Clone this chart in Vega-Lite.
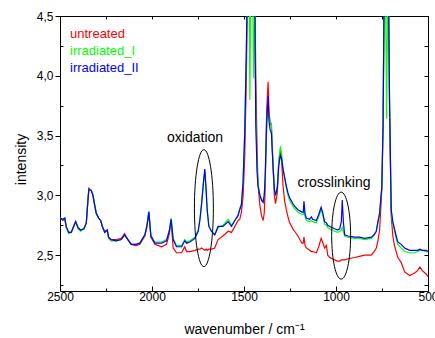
{
"$schema": "https://vega.github.io/schema/vega-lite/v6.json",
"width": 368, "height": 275,
"autosize": "none",
"padding": {"left": 60, "top": 16, "right": 7, "bottom": 47},
"background": "white",
"config": {"view": {"stroke": null}, "font": "Liberation Sans",
  "axis": {"domainColor": "#000000", "domainWidth": 1, "tickColor": "#000000", "tickWidth": 1, "grid": false, "labelColor": "#000000", "labelFontSize": 12, "labelFont": "Liberation Sans", "titleFont": "Liberation Sans", "titleFontSize": 14, "titleFontWeight": "normal", "titleColor": "#000000", "labelFlush": false, "labelOverlap": false}},
"datasets": {
"spectra": [
{"w":2500,"s":"untreated","v":2.81},{"w":2484,"s":"untreated","v":2.79},{"w":2474,"s":"untreated","v":2.80},{"w":2466,"s":"untreated","v":2.73},{"w":2453,"s":"untreated","v":2.69},{"w":2439,"s":"untreated","v":2.69},{"w":2426,"s":"untreated","v":2.74},{"w":2415,"s":"untreated","v":2.78},{"w":2402,"s":"untreated","v":2.73},{"w":2388,"s":"untreated","v":2.71},{"w":2370,"s":"untreated","v":2.72},{"w":2357,"s":"untreated","v":2.77},{"w":2348,"s":"untreated","v":2.97},{"w":2343,"s":"untreated","v":3.06},{"w":2330,"s":"untreated","v":3.04},{"w":2321,"s":"untreated","v":3.00},{"w":2312,"s":"untreated","v":2.92},{"w":2303,"s":"untreated","v":2.85},{"w":2290,"s":"untreated","v":2.81},{"w":2279,"s":"untreated","v":2.79},{"w":2270,"s":"untreated","v":2.74},{"w":2257,"s":"untreated","v":2.70},{"w":2243,"s":"untreated","v":2.71},{"w":2236,"s":"untreated","v":2.65},{"w":2222,"s":"untreated","v":2.63},{"w":2194,"s":"untreated","v":2.63},{"w":2167,"s":"untreated","v":2.64},{"w":2149,"s":"untreated","v":2.68},{"w":2131,"s":"untreated","v":2.63},{"w":2113,"s":"untreated","v":2.59},{"w":2086,"s":"untreated","v":2.58},{"w":2066,"s":"untreated","v":2.59},{"w":2039,"s":"untreated","v":2.66},{"w":2028,"s":"untreated","v":2.73},{"w":2017,"s":"untreated","v":2.85},{"w":2006,"s":"untreated","v":2.65},{"w":1995,"s":"untreated","v":2.62},{"w":1984,"s":"untreated","v":2.59},{"w":1965,"s":"untreated","v":2.58},{"w":1948,"s":"untreated","v":2.57},{"w":1921,"s":"untreated","v":2.59},{"w":1906,"s":"untreated","v":2.68},{"w":1896,"s":"untreated","v":2.78},{"w":1885,"s":"untreated","v":2.56},{"w":1867,"s":"untreated","v":2.52},{"w":1839,"s":"untreated","v":2.52},{"w":1822,"s":"untreated","v":2.57},{"w":1812,"s":"untreated","v":2.53},{"w":1794,"s":"untreated","v":2.53},{"w":1767,"s":"untreated","v":2.54},{"w":1749,"s":"untreated","v":2.55},{"w":1740,"s":"untreated","v":2.55},{"w":1731,"s":"untreated","v":2.56},{"w":1721,"s":"untreated","v":2.55},{"w":1713,"s":"untreated","v":2.54},{"w":1706,"s":"untreated","v":2.55},{"w":1700,"s":"untreated","v":2.54},{"w":1691,"s":"untreated","v":2.55},{"w":1677,"s":"untreated","v":2.55},{"w":1659,"s":"untreated","v":2.56},{"w":1641,"s":"untreated","v":2.63},{"w":1614,"s":"untreated","v":2.66},{"w":1586,"s":"untreated","v":2.70},{"w":1568,"s":"untreated","v":2.69},{"w":1550,"s":"untreated","v":2.74},{"w":1532,"s":"untreated","v":2.79},{"w":1523,"s":"untreated","v":2.80},{"w":1514,"s":"untreated","v":2.86},{"w":1505,"s":"untreated","v":2.99},{"w":1496,"s":"untreated","v":3.33},{"w":1487,"s":"untreated","v":4.00},{"w":1482,"s":"untreated","v":4.60},{"w":1474,"s":"untreated","v":5.20},{"w":1468,"s":"untreated","v":5.10},{"w":1462,"s":"untreated","v":5.20},{"w":1455,"s":"untreated","v":5.10},{"w":1447,"s":"untreated","v":5.00},{"w":1441,"s":"untreated","v":4.80},{"w":1436,"s":"untreated","v":4.00},{"w":1429,"s":"untreated","v":3.40},{"w":1424,"s":"untreated","v":3.10},{"w":1414,"s":"untreated","v":2.92},{"w":1405,"s":"untreated","v":2.83},{"w":1396,"s":"untreated","v":2.79},{"w":1390,"s":"untreated","v":2.85},{"w":1385,"s":"untreated","v":3.05},{"w":1377,"s":"untreated","v":3.70},{"w":1369,"s":"untreated","v":3.95},{"w":1364,"s":"untreated","v":3.70},{"w":1358,"s":"untreated","v":3.61},{"w":1351,"s":"untreated","v":3.58},{"w":1344,"s":"untreated","v":3.30},{"w":1335,"s":"untreated","v":3.00},{"w":1329,"s":"untreated","v":2.93},{"w":1319,"s":"untreated","v":3.02},{"w":1311,"s":"untreated","v":3.28},{"w":1302,"s":"untreated","v":3.37},{"w":1295,"s":"untreated","v":3.28},{"w":1288,"s":"untreated","v":3.08},{"w":1279,"s":"untreated","v":2.95},{"w":1270,"s":"untreated","v":2.88},{"w":1261,"s":"untreated","v":2.82},{"w":1252,"s":"untreated","v":2.77},{"w":1234,"s":"untreated","v":2.72},{"w":1225,"s":"untreated","v":2.70},{"w":1207,"s":"untreated","v":2.66},{"w":1185,"s":"untreated","v":2.60},{"w":1178,"s":"untreated","v":2.60},{"w":1174,"s":"untreated","v":2.65},{"w":1168,"s":"untreated","v":2.58},{"w":1161,"s":"untreated","v":2.56},{"w":1143,"s":"untreated","v":2.54},{"w":1134,"s":"untreated","v":2.53},{"w":1127,"s":"untreated","v":2.53},{"w":1107,"s":"untreated","v":2.52},{"w":1094,"s":"untreated","v":2.57},{"w":1081,"s":"untreated","v":2.64},{"w":1073,"s":"untreated","v":2.61},{"w":1062,"s":"untreated","v":2.56},{"w":1052,"s":"untreated","v":2.58},{"w":1045,"s":"untreated","v":2.50},{"w":1034,"s":"untreated","v":2.48},{"w":1007,"s":"untreated","v":2.46},{"w":991,"s":"untreated","v":2.45},{"w":980,"s":"untreated","v":2.45},{"w":971,"s":"untreated","v":2.46},{"w":966,"s":"untreated","v":2.46},{"w":960,"s":"untreated","v":2.46},{"w":953,"s":"untreated","v":2.46},{"w":935,"s":"untreated","v":2.47},{"w":899,"s":"untreated","v":2.48},{"w":872,"s":"untreated","v":2.49},{"w":845,"s":"untreated","v":2.50},{"w":808,"s":"untreated","v":2.50},{"w":793,"s":"untreated","v":2.53},{"w":781,"s":"untreated","v":2.56},{"w":772,"s":"untreated","v":2.62},{"w":763,"s":"untreated","v":2.71},{"w":751,"s":"untreated","v":3.05},{"w":744,"s":"untreated","v":3.60},{"w":739,"s":"untreated","v":4.60},{"w":733,"s":"untreated","v":5.20},{"w":725,"s":"untreated","v":5.00},{"w":717,"s":"untreated","v":5.10},{"w":709,"s":"untreated","v":3.70},{"w":700,"s":"untreated","v":2.83},{"w":691,"s":"untreated","v":2.66},{"w":682,"s":"untreated","v":2.58},{"w":673,"s":"untreated","v":2.53},{"w":664,"s":"untreated","v":2.48},{"w":646,"s":"untreated","v":2.44},{"w":627,"s":"untreated","v":2.36},{"w":600,"s":"untreated","v":2.33},{"w":573,"s":"untreated","v":2.35},{"w":557,"s":"untreated","v":2.37},{"w":544,"s":"untreated","v":2.40},{"w":531,"s":"untreated","v":2.37},{"w":509,"s":"untreated","v":2.34},{"w":500,"s":"untreated","v":2.32},
{"w":2500,"s":"irradiated_I","v":2.81},{"w":2484,"s":"irradiated_I","v":2.80},{"w":2474,"s":"irradiated_I","v":2.81},{"w":2466,"s":"irradiated_I","v":2.73},{"w":2453,"s":"irradiated_I","v":2.68},{"w":2439,"s":"irradiated_I","v":2.69},{"w":2426,"s":"irradiated_I","v":2.74},{"w":2415,"s":"irradiated_I","v":2.78},{"w":2402,"s":"irradiated_I","v":2.72},{"w":2388,"s":"irradiated_I","v":2.70},{"w":2370,"s":"irradiated_I","v":2.72},{"w":2357,"s":"irradiated_I","v":2.77},{"w":2348,"s":"irradiated_I","v":2.97},{"w":2343,"s":"irradiated_I","v":3.05},{"w":2330,"s":"irradiated_I","v":3.04},{"w":2321,"s":"irradiated_I","v":3.01},{"w":2312,"s":"irradiated_I","v":2.93},{"w":2303,"s":"irradiated_I","v":2.85},{"w":2290,"s":"irradiated_I","v":2.81},{"w":2279,"s":"irradiated_I","v":2.79},{"w":2270,"s":"irradiated_I","v":2.74},{"w":2257,"s":"irradiated_I","v":2.69},{"w":2243,"s":"irradiated_I","v":2.71},{"w":2236,"s":"irradiated_I","v":2.64},{"w":2222,"s":"irradiated_I","v":2.62},{"w":2194,"s":"irradiated_I","v":2.62},{"w":2167,"s":"irradiated_I","v":2.63},{"w":2149,"s":"irradiated_I","v":2.67},{"w":2131,"s":"irradiated_I","v":2.63},{"w":2113,"s":"irradiated_I","v":2.59},{"w":2086,"s":"irradiated_I","v":2.59},{"w":2066,"s":"irradiated_I","v":2.60},{"w":2039,"s":"irradiated_I","v":2.67},{"w":2028,"s":"irradiated_I","v":2.75},{"w":2017,"s":"irradiated_I","v":2.87},{"w":2006,"s":"irradiated_I","v":2.67},{"w":1995,"s":"irradiated_I","v":2.63},{"w":1984,"s":"irradiated_I","v":2.61},{"w":1965,"s":"irradiated_I","v":2.61},{"w":1948,"s":"irradiated_I","v":2.61},{"w":1921,"s":"irradiated_I","v":2.63},{"w":1906,"s":"irradiated_I","v":2.71},{"w":1896,"s":"irradiated_I","v":2.81},{"w":1885,"s":"irradiated_I","v":2.64},{"w":1867,"s":"irradiated_I","v":2.58},{"w":1839,"s":"irradiated_I","v":2.58},{"w":1822,"s":"irradiated_I","v":2.63},{"w":1812,"s":"irradiated_I","v":2.61},{"w":1794,"s":"irradiated_I","v":2.62},{"w":1767,"s":"irradiated_I","v":2.65},{"w":1749,"s":"irradiated_I","v":2.71},{"w":1740,"s":"irradiated_I","v":2.80},{"w":1731,"s":"irradiated_I","v":2.92},{"w":1721,"s":"irradiated_I","v":3.09},{"w":1713,"s":"irradiated_I","v":3.20},{"w":1706,"s":"irradiated_I","v":3.04},{"w":1700,"s":"irradiated_I","v":2.87},{"w":1691,"s":"irradiated_I","v":2.74},{"w":1677,"s":"irradiated_I","v":2.70},{"w":1659,"s":"irradiated_I","v":2.67},{"w":1641,"s":"irradiated_I","v":2.73},{"w":1614,"s":"irradiated_I","v":2.75},{"w":1586,"s":"irradiated_I","v":2.80},{"w":1568,"s":"irradiated_I","v":2.75},{"w":1550,"s":"irradiated_I","v":2.79},{"w":1532,"s":"irradiated_I","v":2.84},{"w":1523,"s":"irradiated_I","v":2.89},{"w":1514,"s":"irradiated_I","v":2.93},{"w":1505,"s":"irradiated_I","v":3.13},{"w":1496,"s":"irradiated_I","v":3.55},{"w":1487,"s":"irradiated_I","v":4.25},{"w":1482,"s":"irradiated_I","v":4.85},{"w":1474,"s":"irradiated_I","v":5.20},{"w":1468,"s":"irradiated_I","v":3.80},{"w":1462,"s":"irradiated_I","v":5.00},{"w":1455,"s":"irradiated_I","v":5.00},{"w":1447,"s":"irradiated_I","v":3.98},{"w":1441,"s":"irradiated_I","v":4.70},{"w":1436,"s":"irradiated_I","v":3.70},{"w":1429,"s":"irradiated_I","v":3.25},{"w":1424,"s":"irradiated_I","v":3.10},{"w":1414,"s":"irradiated_I","v":3.01},{"w":1405,"s":"irradiated_I","v":2.97},{"w":1396,"s":"irradiated_I","v":2.95},{"w":1390,"s":"irradiated_I","v":3.00},{"w":1385,"s":"irradiated_I","v":3.12},{"w":1377,"s":"irradiated_I","v":3.55},{"w":1369,"s":"irradiated_I","v":3.78},{"w":1364,"s":"irradiated_I","v":3.64},{"w":1358,"s":"irradiated_I","v":3.62},{"w":1351,"s":"irradiated_I","v":3.60},{"w":1344,"s":"irradiated_I","v":3.32},{"w":1335,"s":"irradiated_I","v":3.05},{"w":1329,"s":"irradiated_I","v":3.00},{"w":1319,"s":"irradiated_I","v":3.08},{"w":1311,"s":"irradiated_I","v":3.30},{"w":1302,"s":"irradiated_I","v":3.41},{"w":1295,"s":"irradiated_I","v":3.34},{"w":1288,"s":"irradiated_I","v":3.23},{"w":1279,"s":"irradiated_I","v":3.14},{"w":1270,"s":"irradiated_I","v":3.06},{"w":1261,"s":"irradiated_I","v":3.00},{"w":1252,"s":"irradiated_I","v":2.96},{"w":1234,"s":"irradiated_I","v":2.91},{"w":1225,"s":"irradiated_I","v":2.89},{"w":1207,"s":"irradiated_I","v":2.86},{"w":1185,"s":"irradiated_I","v":2.84},{"w":1178,"s":"irradiated_I","v":2.84},{"w":1174,"s":"irradiated_I","v":2.90},{"w":1168,"s":"irradiated_I","v":2.82},{"w":1161,"s":"irradiated_I","v":2.79},{"w":1143,"s":"irradiated_I","v":2.78},{"w":1134,"s":"irradiated_I","v":2.79},{"w":1127,"s":"irradiated_I","v":2.78},{"w":1107,"s":"irradiated_I","v":2.77},{"w":1094,"s":"irradiated_I","v":2.82},{"w":1081,"s":"irradiated_I","v":2.88},{"w":1073,"s":"irradiated_I","v":2.84},{"w":1062,"s":"irradiated_I","v":2.76},{"w":1052,"s":"irradiated_I","v":2.75},{"w":1045,"s":"irradiated_I","v":2.73},{"w":1034,"s":"irradiated_I","v":2.72},{"w":1007,"s":"irradiated_I","v":2.70},{"w":991,"s":"irradiated_I","v":2.69},{"w":980,"s":"irradiated_I","v":2.70},{"w":971,"s":"irradiated_I","v":2.71},{"w":966,"s":"irradiated_I","v":2.73},{"w":960,"s":"irradiated_I","v":2.70},{"w":953,"s":"irradiated_I","v":2.66},{"w":935,"s":"irradiated_I","v":2.65},{"w":899,"s":"irradiated_I","v":2.64},{"w":872,"s":"irradiated_I","v":2.64},{"w":845,"s":"irradiated_I","v":2.63},{"w":808,"s":"irradiated_I","v":2.64},{"w":793,"s":"irradiated_I","v":2.67},{"w":781,"s":"irradiated_I","v":2.70},{"w":772,"s":"irradiated_I","v":2.78},{"w":763,"s":"irradiated_I","v":2.85},{"w":751,"s":"irradiated_I","v":3.07},{"w":744,"s":"irradiated_I","v":3.60},{"w":739,"s":"irradiated_I","v":4.60},{"w":733,"s":"irradiated_I","v":5.20},{"w":725,"s":"irradiated_I","v":3.64},{"w":717,"s":"irradiated_I","v":5.10},{"w":709,"s":"irradiated_I","v":3.80},{"w":700,"s":"irradiated_I","v":2.86},{"w":691,"s":"irradiated_I","v":2.76},{"w":682,"s":"irradiated_I","v":2.70},{"w":673,"s":"irradiated_I","v":2.64},{"w":664,"s":"irradiated_I","v":2.59},{"w":646,"s":"irradiated_I","v":2.56},{"w":627,"s":"irradiated_I","v":2.53},{"w":600,"s":"irradiated_I","v":2.52},{"w":573,"s":"irradiated_I","v":2.52},{"w":557,"s":"irradiated_I","v":2.53},{"w":544,"s":"irradiated_I","v":2.54},{"w":531,"s":"irradiated_I","v":2.54},{"w":509,"s":"irradiated_I","v":2.53},{"w":500,"s":"irradiated_I","v":2.53},
{"w":2500,"s":"irradiated_II","v":2.81},{"w":2484,"s":"irradiated_II","v":2.80},{"w":2474,"s":"irradiated_II","v":2.81},{"w":2466,"s":"irradiated_II","v":2.74},{"w":2453,"s":"irradiated_II","v":2.69},{"w":2439,"s":"irradiated_II","v":2.69},{"w":2426,"s":"irradiated_II","v":2.74},{"w":2415,"s":"irradiated_II","v":2.78},{"w":2402,"s":"irradiated_II","v":2.73},{"w":2388,"s":"irradiated_II","v":2.71},{"w":2370,"s":"irradiated_II","v":2.72},{"w":2357,"s":"irradiated_II","v":2.77},{"w":2348,"s":"irradiated_II","v":2.96},{"w":2343,"s":"irradiated_II","v":3.05},{"w":2330,"s":"irradiated_II","v":3.04},{"w":2321,"s":"irradiated_II","v":3.00},{"w":2312,"s":"irradiated_II","v":2.92},{"w":2303,"s":"irradiated_II","v":2.85},{"w":2290,"s":"irradiated_II","v":2.81},{"w":2279,"s":"irradiated_II","v":2.79},{"w":2270,"s":"irradiated_II","v":2.74},{"w":2257,"s":"irradiated_II","v":2.69},{"w":2243,"s":"irradiated_II","v":2.71},{"w":2236,"s":"irradiated_II","v":2.65},{"w":2222,"s":"irradiated_II","v":2.63},{"w":2194,"s":"irradiated_II","v":2.62},{"w":2167,"s":"irradiated_II","v":2.63},{"w":2149,"s":"irradiated_II","v":2.67},{"w":2131,"s":"irradiated_II","v":2.63},{"w":2113,"s":"irradiated_II","v":2.59},{"w":2086,"s":"irradiated_II","v":2.59},{"w":2066,"s":"irradiated_II","v":2.60},{"w":2039,"s":"irradiated_II","v":2.67},{"w":2028,"s":"irradiated_II","v":2.74},{"w":2017,"s":"irradiated_II","v":2.86},{"w":2006,"s":"irradiated_II","v":2.66},{"w":1995,"s":"irradiated_II","v":2.63},{"w":1984,"s":"irradiated_II","v":2.60},{"w":1965,"s":"irradiated_II","v":2.60},{"w":1948,"s":"irradiated_II","v":2.60},{"w":1921,"s":"irradiated_II","v":2.62},{"w":1906,"s":"irradiated_II","v":2.70},{"w":1896,"s":"irradiated_II","v":2.80},{"w":1885,"s":"irradiated_II","v":2.63},{"w":1867,"s":"irradiated_II","v":2.57},{"w":1839,"s":"irradiated_II","v":2.57},{"w":1822,"s":"irradiated_II","v":2.62},{"w":1812,"s":"irradiated_II","v":2.60},{"w":1794,"s":"irradiated_II","v":2.61},{"w":1767,"s":"irradiated_II","v":2.64},{"w":1749,"s":"irradiated_II","v":2.70},{"w":1740,"s":"irradiated_II","v":2.79},{"w":1731,"s":"irradiated_II","v":2.92},{"w":1721,"s":"irradiated_II","v":3.10},{"w":1713,"s":"irradiated_II","v":3.22},{"w":1706,"s":"irradiated_II","v":3.05},{"w":1700,"s":"irradiated_II","v":2.88},{"w":1691,"s":"irradiated_II","v":2.74},{"w":1677,"s":"irradiated_II","v":2.70},{"w":1659,"s":"irradiated_II","v":2.67},{"w":1641,"s":"irradiated_II","v":2.74},{"w":1614,"s":"irradiated_II","v":2.74},{"w":1586,"s":"irradiated_II","v":2.78},{"w":1568,"s":"irradiated_II","v":2.74},{"w":1550,"s":"irradiated_II","v":2.79},{"w":1532,"s":"irradiated_II","v":2.83},{"w":1523,"s":"irradiated_II","v":2.88},{"w":1514,"s":"irradiated_II","v":2.92},{"w":1505,"s":"irradiated_II","v":3.11},{"w":1496,"s":"irradiated_II","v":3.52},{"w":1487,"s":"irradiated_II","v":4.22},{"w":1482,"s":"irradiated_II","v":4.80},{"w":1474,"s":"irradiated_II","v":5.20},{"w":1468,"s":"irradiated_II","v":4.90},{"w":1462,"s":"irradiated_II","v":5.10},{"w":1455,"s":"irradiated_II","v":5.00},{"w":1447,"s":"irradiated_II","v":4.90},{"w":1441,"s":"irradiated_II","v":4.60},{"w":1436,"s":"irradiated_II","v":3.60},{"w":1429,"s":"irradiated_II","v":3.20},{"w":1424,"s":"irradiated_II","v":3.08},{"w":1414,"s":"irradiated_II","v":3.00},{"w":1405,"s":"irradiated_II","v":2.96},{"w":1396,"s":"irradiated_II","v":2.94},{"w":1390,"s":"irradiated_II","v":3.00},{"w":1385,"s":"irradiated_II","v":3.15},{"w":1377,"s":"irradiated_II","v":3.60},{"w":1369,"s":"irradiated_II","v":3.83},{"w":1364,"s":"irradiated_II","v":3.62},{"w":1358,"s":"irradiated_II","v":3.55},{"w":1351,"s":"irradiated_II","v":3.52},{"w":1344,"s":"irradiated_II","v":3.30},{"w":1335,"s":"irradiated_II","v":3.05},{"w":1329,"s":"irradiated_II","v":3.00},{"w":1319,"s":"irradiated_II","v":3.06},{"w":1311,"s":"irradiated_II","v":3.25},{"w":1302,"s":"irradiated_II","v":3.34},{"w":1295,"s":"irradiated_II","v":3.30},{"w":1288,"s":"irradiated_II","v":3.22},{"w":1279,"s":"irradiated_II","v":3.15},{"w":1270,"s":"irradiated_II","v":3.08},{"w":1261,"s":"irradiated_II","v":3.02},{"w":1252,"s":"irradiated_II","v":2.98},{"w":1234,"s":"irradiated_II","v":2.93},{"w":1225,"s":"irradiated_II","v":2.91},{"w":1207,"s":"irradiated_II","v":2.88},{"w":1185,"s":"irradiated_II","v":2.86},{"w":1178,"s":"irradiated_II","v":2.86},{"w":1174,"s":"irradiated_II","v":2.95},{"w":1168,"s":"irradiated_II","v":2.84},{"w":1161,"s":"irradiated_II","v":2.81},{"w":1143,"s":"irradiated_II","v":2.80},{"w":1134,"s":"irradiated_II","v":2.82},{"w":1127,"s":"irradiated_II","v":2.80},{"w":1107,"s":"irradiated_II","v":2.79},{"w":1094,"s":"irradiated_II","v":2.84},{"w":1081,"s":"irradiated_II","v":2.90},{"w":1073,"s":"irradiated_II","v":2.86},{"w":1062,"s":"irradiated_II","v":2.78},{"w":1052,"s":"irradiated_II","v":2.77},{"w":1045,"s":"irradiated_II","v":2.75},{"w":1034,"s":"irradiated_II","v":2.74},{"w":1007,"s":"irradiated_II","v":2.72},{"w":991,"s":"irradiated_II","v":2.71},{"w":980,"s":"irradiated_II","v":2.72},{"w":971,"s":"irradiated_II","v":2.78},{"w":966,"s":"irradiated_II","v":2.96},{"w":960,"s":"irradiated_II","v":2.78},{"w":953,"s":"irradiated_II","v":2.67},{"w":935,"s":"irradiated_II","v":2.66},{"w":899,"s":"irradiated_II","v":2.65},{"w":872,"s":"irradiated_II","v":2.65},{"w":845,"s":"irradiated_II","v":2.64},{"w":808,"s":"irradiated_II","v":2.65},{"w":793,"s":"irradiated_II","v":2.67},{"w":781,"s":"irradiated_II","v":2.70},{"w":772,"s":"irradiated_II","v":2.78},{"w":763,"s":"irradiated_II","v":2.85},{"w":751,"s":"irradiated_II","v":3.07},{"w":744,"s":"irradiated_II","v":3.60},{"w":739,"s":"irradiated_II","v":4.60},{"w":733,"s":"irradiated_II","v":5.20},{"w":725,"s":"irradiated_II","v":4.80},{"w":717,"s":"irradiated_II","v":5.10},{"w":709,"s":"irradiated_II","v":3.80},{"w":700,"s":"irradiated_II","v":2.88},{"w":691,"s":"irradiated_II","v":2.78},{"w":682,"s":"irradiated_II","v":2.72},{"w":673,"s":"irradiated_II","v":2.66},{"w":664,"s":"irradiated_II","v":2.61},{"w":646,"s":"irradiated_II","v":2.59},{"w":627,"s":"irradiated_II","v":2.56},{"w":600,"s":"irradiated_II","v":2.54},{"w":573,"s":"irradiated_II","v":2.54},{"w":557,"s":"irradiated_II","v":2.54},{"w":544,"s":"irradiated_II","v":2.55},{"w":531,"s":"irradiated_II","v":2.54},{"w":509,"s":"irradiated_II","v":2.54},{"w":500,"s":"irradiated_II","v":2.53}
],
"notes": [
{"w":1766,"v":3.48,"label":"oxidation"},
{"w":1011,"v":3.10,"label":"crosslinking"}
],
"regions": [
{"w":1718,"v":2.893,"feature":"oxidation"},
{"w":972,"v":2.663,"feature":"crosslinking"}
]
},
"layer": [
{
"data": {"name": "spectra"},
"mark": {"type": "line", "strokeWidth": 1.2, "clip": true},
"encoding": {
"x": {"field": "w", "type": "quantitative", "scale": {"domain": [500, 2500], "reverse": true, "nice": false},
  "axis": {"orient": "bottom", "values": [2500,2250,2000,1750,1500,1250,1000,750,500], "format": "d",
   "labelExpr": "datum.value % 500 === 0 ? datum.label : ''",
   "tickSize": {"condition": {"test": "datum.value % 500 === 0", "value": -5}, "value": -3},
   "labelPadding": 5, "title": "wavenumber / cm⁻¹", "titleY": 42, "titleBaseline": "alphabetic"}},
"y": {"field": "v", "type": "quantitative", "scale": {"domain": [2.2, 4.5], "nice": false, "zero": false},
  "axis": {"orient": "left", "values": [2.25,2.5,2.75,3.0,3.25,3.5,3.75,4.0,4.25,4.5],
   "labelExpr": "round(datum.value*100) % 50 === 0 ? replace(format(datum.value, '.1f'), '.', ',') : ''",
   "tickSize": {"condition": {"test": "round(datum.value*100) % 50 === 0", "value": 5}, "value": -3},
   "labelPadding": 2, "title": "intensity", "titleX": -35, "titleY": 143, "titleBaseline": "alphabetic", "titleAlign": "center"}},
"color": {"field": "s", "type": "nominal",
  "scale": {"domain": ["untreated", "irradiated_I", "irradiated_II"], "range": ["#ff0000", "#00ff00", "#0000ff"]},
  "legend": {"orient": "none", "legendX": -3, "legendY": 11, "title": null, "padding": 0,
   "symbolType": "circle", "symbolSize": 0, "symbolOpacity": 0, "symbolStrokeWidth": 0, "labelOffset": 0,
   "labelFontSize": 13, "labelFont": "Liberation Sans", "rowPadding": 3,
   "encode": {"labels": {"update": {"fill": {"signal": "scale('color', datum.value)"}}}}}}
}
},
{
"data": {"name": "notes"},
"mark": {"type": "text", "fontSize": 14, "font": "Liberation Sans", "align": "center", "baseline": "middle", "color": "#000000"},
"encoding": {
"x": {"field": "w", "type": "quantitative", "scale": {"domain": [500, 2500], "reverse": true, "nice": false},
  "axis": {"orient": "top", "values": [2500,2250,2000,1750,1500,1250,1000,750,500], "labels": false, "title": null,
   "tickSize": -3}},
"y": {"field": "v", "type": "quantitative", "scale": {"domain": [2.2, 4.5], "nice": false, "zero": false},
  "axis": {"orient": "right", "values": [2.25,2.5,2.75,3.0,3.25,3.5,3.75,4.0,4.25,4.5], "labels": false, "title": null,
   "tickSize": -4}},
"text": {"field": "label"}
}
},
{
"data": {"name": "regions"},
"transform": [{"filter": "datum.feature === 'oxidation'"}],
"mark": {"type": "point", "filled": false, "stroke": "#000000", "strokeWidth": 1, "opacity": 1,
  "shape": "M -0.162 0 A 0.162 1 0 1 1 0.162 0 A 0.162 1 0 1 1 -0.162 0 Z", "size": 13689},
"encoding": {
"x": {"field": "w", "type": "quantitative", "scale": {"domain": [500, 2500], "reverse": true, "nice": false}, "axis": null},
"y": {"field": "v", "type": "quantitative", "scale": {"domain": [2.2, 4.5], "nice": false, "zero": false}, "axis": null}
}
},
{
"data": {"name": "regions"},
"transform": [{"filter": "datum.feature === 'crosslinking'"}],
"mark": {"type": "point", "filled": false, "stroke": "#000000", "strokeWidth": 1, "opacity": 1,
  "shape": "M -0.218 0 A 0.218 1 0 1 1 0.218 0 A 0.218 1 0 1 1 -0.218 0 Z", "size": 7569},
"encoding": {
"x": {"field": "w", "type": "quantitative", "scale": {"domain": [500, 2500], "reverse": true, "nice": false}, "axis": null},
"y": {"field": "v", "type": "quantitative", "scale": {"domain": [2.2, 4.5], "nice": false, "zero": false}, "axis": null}
}
}
],
"resolve": {"axis": {"x": "independent", "y": "independent"}}
}
